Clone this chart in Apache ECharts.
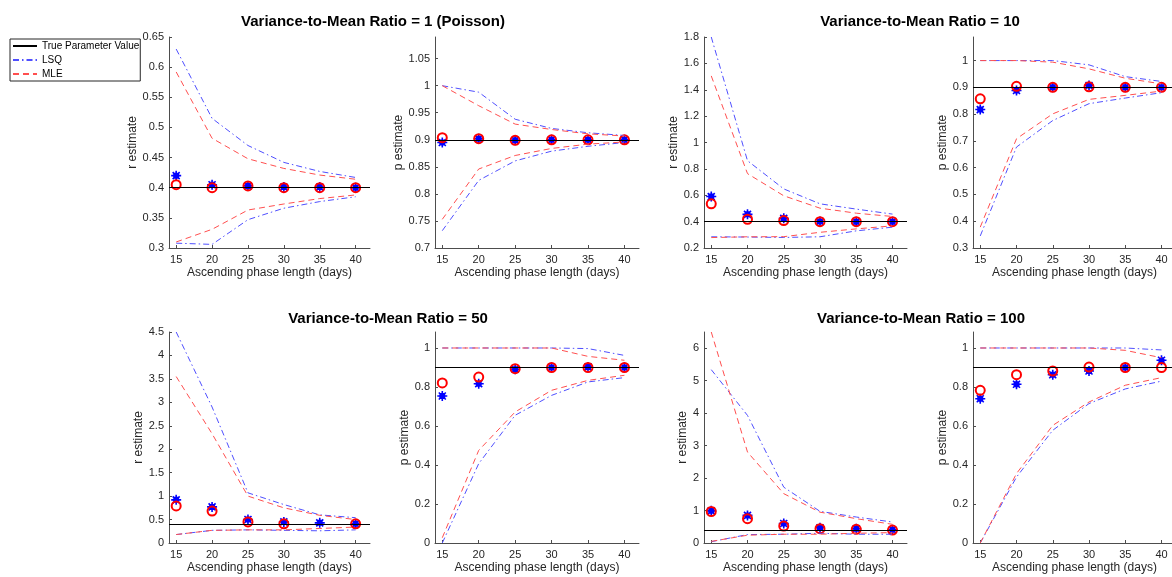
<!DOCTYPE html>
<html>
<head>
<meta charset="utf-8">
<title>Variance-to-mean ratio estimates</title>
<script src="https://cdn.jsdelivr.net/npm/echarts@6/dist/echarts.min.js"></script>
<style>
  html, body { margin: 0; padding: 0; background: #fff; }
  #main { width: 1172px; height: 577px; }
</style>
</head>
<body>
<div id="main"></div>
<script>
// x positions (ascending phase length, days)
var phaseLen = [15, 20, 25, 30, 35, 40];
var xTicks = [15, 20, 25, 30, 35, 40];

// true parameter values
var trueR = 0.4;
var trueP = 0.9;

// y tick labels per panel
var rTicksV1 = [0.3, 0.35, 0.4, 0.45, 0.5, 0.55, 0.6, 0.65];
var pTicksV1 = [0.7, 0.75, 0.8, 0.85, 0.9, 0.95, 1, 1.05];
var rTicksV10 = [0.2, 0.4, 0.6, 0.8, 1, 1.2, 1.4, 1.6, 1.8];
var pTicksV10 = [0.3, 0.4, 0.5, 0.6, 0.7, 0.8, 0.9, 1];
var rTicksV50 = [0, 0.5, 1, 1.5, 2, 2.5, 3, 3.5, 4, 4.5];
var pTicksV50 = [0, 0.2, 0.4, 0.6, 0.8, 1];
var rTicksV100 = [0, 1, 2, 3, 4, 5, 6];
var pTicksV100 = [0, 0.2, 0.4, 0.6, 0.8, 1];

// VMR = 1 (Poisson), r
var v1rLsq   = [0.420, 0.405, 0.403, 0.401, 0.401, 0.400];
var v1rMle   = [0.405, 0.400, 0.403, 0.400, 0.400, 0.400];
var v1rLsqHi = [0.630, 0.515, 0.470, 0.442, 0.427, 0.417];
var v1rLsqLo = [0.308, 0.306, 0.347, 0.366, 0.377, 0.385];
var v1rMleHi = [0.592, 0.482, 0.448, 0.432, 0.421, 0.414];
var v1rMleLo = [0.310, 0.331, 0.363, 0.373, 0.382, 0.388];

// VMR = 1 (Poisson), p
var v1pLsq   = [0.895, 0.902, 0.899, 0.900, 0.900, 0.900];
var v1pMle   = [0.904, 0.902, 0.899, 0.900, 0.900, 0.900];
var v1pLsqHi = [1.000, 0.988, 0.938, 0.921, 0.913, 0.908];
var v1pLsqLo = [0.732, 0.825, 0.861, 0.879, 0.888, 0.895];
var v1pMleHi = [1.000, 0.963, 0.929, 0.919, 0.911, 0.907];
var v1pMleLo = [0.753, 0.846, 0.871, 0.884, 0.892, 0.896];

// VMR = 10, r
var v10rLsq   = [0.590, 0.455, 0.425, 0.401, 0.400, 0.400];
var v10rMle   = [0.535, 0.418, 0.408, 0.400, 0.400, 0.400];
var v10rLsqHi = [1.800, 0.862, 0.648, 0.535, 0.495, 0.457];
var v10rLsqLo = [0.285, 0.283, 0.280, 0.285, 0.330, 0.358];
var v10rMleHi = [1.505, 0.764, 0.596, 0.502, 0.464, 0.439];
var v10rMleLo = [0.279, 0.285, 0.286, 0.319, 0.345, 0.368];

// VMR = 10, p
var v10pLsq   = [0.817, 0.888, 0.900, 0.907, 0.900, 0.900];
var v10pMle   = [0.857, 0.904, 0.900, 0.902, 0.900, 0.900];
var v10pLsqHi = [1.000, 1.000, 1.000, 0.984, 0.940, 0.922];
var v10pLsqLo = [0.345, 0.677, 0.776, 0.839, 0.860, 0.880];
var v10pMleHi = [1.000, 1.000, 0.994, 0.969, 0.934, 0.913];
var v10pMleLo = [0.378, 0.708, 0.801, 0.855, 0.870, 0.886];

// VMR = 50, r  (no MLE point at 35)
var v50rLsq   = [0.92, 0.77, 0.50, 0.45, 0.43, 0.41];
var v50rMle   = [0.79, 0.68, 0.45, 0.41, null, 0.41];
var v50rLsqHi = [4.50, 2.90, 1.07, 0.82, 0.60, 0.54];
var v50rLsqLo = [0.18, 0.27, 0.28, 0.27, 0.26, 0.28];
var v50rMleHi = [3.55, 2.33, 1.00, 0.75, 0.59, 0.50];
var v50rMleLo = [0.18, 0.27, 0.28, 0.28, 0.31, 0.34];

// VMR = 50, p
var v50pLsq   = [0.754, 0.817, 0.891, 0.900, 0.903, 0.900];
var v50pMle   = [0.821, 0.851, 0.894, 0.900, 0.900, 0.900];
var v50pLsqHi = [1.000, 1.000, 1.000, 1.000, 0.997, 0.962];
var v50pLsqLo = [0.000, 0.407, 0.655, 0.757, 0.826, 0.848];
var v50pMleHi = [1.000, 1.000, 1.000, 1.000, 0.957, 0.937];
var v50pMleLo = [0.027, 0.475, 0.672, 0.783, 0.834, 0.860];

// VMR = 100, r
var v100rLsq   = [0.99, 0.85, 0.60, 0.47, 0.44, 0.41];
var v100rMle   = [0.97, 0.75, 0.52, 0.44, 0.42, 0.40];
var v100rLsqHi = [5.34, 3.93, 1.72, 0.975, 0.80, 0.646];
var v100rLsqLo = [0.04, 0.26, 0.27, 0.30, 0.27, 0.27];
var v100rMleHi = [6.50, 2.80, 1.52, 0.95, 0.75, 0.575];
var v100rMleLo = [0.05, 0.24, 0.27, 0.27, 0.30, 0.32];

// VMR = 100, p
var v100pLsq   = [0.740, 0.814, 0.863, 0.882, 0.900, 0.937];
var v100pMle   = [0.783, 0.863, 0.882, 0.902, 0.900, 0.900];
var v100pLsqHi = [1.000, 1.000, 1.000, 1.000, 1.000, 0.990];
var v100pLsqLo = [0.000, 0.338, 0.578, 0.715, 0.790, 0.830];
var v100pMleHi = [1.000, 1.000, 1.000, 1.000, 0.988, 0.950];
var v100pMleLo = [0.000, 0.356, 0.603, 0.723, 0.809, 0.848];

var FONT = 'Liberation Sans, Arial, Helvetica, sans-serif';
var AXIS_COLOR = '#4d4d4d';
var TEXT_COLOR = '#262626';
var LSQ_COLOR = '#4f4fff';
var MLE_COLOR = '#ff4f4f';
// MATLAB-like '*' marker: 8 arms and a small solid core
var ASTERISK = 'path://M0,-5L0,5M-5,0L5,0M-3.5,-3.5L3.5,3.5M-3.5,3.5L3.5,-3.5M-2.2,-2.2L2.2,-2.2L2.2,2.2L-2.2,2.2Z';

var panels = [
  { left: 169, top: 37, width: 201, yMin: 0.3, yMax: 0.65, ticks: rTicksV1, yName: 'r estimate', nameGap: 28, truth: trueR,
    lsq: v1rLsq, mle: v1rMle, lsqHi: v1rLsqHi, lsqLo: v1rLsqLo, mleHi: v1rMleHi, mleLo: v1rMleLo },
  { left: 435, top: 37, width: 204, yMin: 0.7, yMax: 1.09, ticks: pTicksV1, yName: 'p estimate', nameGap: 24, truth: trueP,
    lsq: v1pLsq, mle: v1pMle, lsqHi: v1pLsqHi, lsqLo: v1pLsqLo, mleHi: v1pMleHi, mleLo: v1pMleLo },
  { left: 704, top: 37, width: 203, yMin: 0.2, yMax: 1.8, ticks: rTicksV10, yName: 'r estimate', nameGap: 20, truth: trueR,
    lsq: v10rLsq, mle: v10rMle, lsqHi: v10rLsqHi, lsqLo: v10rLsqLo, mleHi: v10rMleHi, mleLo: v10rMleLo },
  { left: 973, top: 37, width: 203, yMin: 0.3, yMax: 1.088, ticks: pTicksV10, yName: 'p estimate', nameGap: 19, truth: trueP,
    lsq: v10pLsq, mle: v10pMle, lsqHi: v10pLsqHi, lsqLo: v10pLsqLo, mleHi: v10pMleHi, mleLo: v10pMleLo },
  { left: 169, top: 332, width: 201, yMin: 0, yMax: 4.5, ticks: rTicksV50, yName: 'r estimate', nameGap: 20, truth: trueR,
    lsq: v50rLsq, mle: v50rMle, lsqHi: v50rLsqHi, lsqLo: v50rLsqLo, mleHi: v50rMleHi, mleLo: v50rMleLo },
  { left: 435, top: 332, width: 204, yMin: 0, yMax: 1.082, ticks: pTicksV50, yName: 'p estimate', nameGap: 19, truth: trueP,
    lsq: v50pLsq, mle: v50pMle, lsqHi: v50pLsqHi, lsqLo: v50pLsqLo, mleHi: v50pMleHi, mleLo: v50pMleLo },
  { left: 704, top: 332, width: 203, yMin: 0, yMax: 6.5, ticks: rTicksV100, yName: 'r estimate', nameGap: 10, truth: trueR,
    lsq: v100rLsq, mle: v100rMle, lsqHi: v100rLsqHi, lsqLo: v100rLsqLo, mleHi: v100rMleHi, mleLo: v100rMleLo },
  { left: 973, top: 332, width: 203, yMin: 0, yMax: 1.082, ticks: pTicksV100, yName: 'p estimate', nameGap: 19, truth: trueP,
    lsq: v100pLsq, mle: v100pMle, lsqHi: v100pLsqHi, lsqLo: v100pLsqLo, mleHi: v100pMleHi, mleLo: v100pMleLo }
];

function pairs(ys) {
  return phaseLen.map(function (x, k) { return [x, ys[k]]; });
}

var grids = [], xAxes = [], yAxes = [], series = [];

panels.forEach(function (p, i) {
  grids.push({ left: p.left, top: p.top, width: p.width, height: 211, outerBoundsMode: 'none' });

  xAxes.push({
    type: 'value', gridIndex: i, min: 14, max: 42,
    name: 'Ascending phase length (days)', nameLocation: 'middle', nameGap: 19,
    nameTextStyle: { fontSize: 12, color: TEXT_COLOR, fontFamily: FONT },
    axisLine: { show: true, onZero: false, lineStyle: { color: AXIS_COLOR, width: 1 } },
    axisTick: { show: true, inside: true, length: 3, customValues: xTicks, lineStyle: { color: AXIS_COLOR } },
    axisLabel: { customValues: xTicks, fontSize: 11, color: TEXT_COLOR, margin: 6, fontFamily: FONT },
    splitLine: { show: false }
  });

  yAxes.push({
    type: 'value', gridIndex: i, min: p.yMin, max: p.yMax,
    name: p.yName, nameLocation: 'middle', nameRotate: 90, nameGap: p.nameGap,
    nameTextStyle: { fontSize: 12, color: TEXT_COLOR, fontFamily: FONT },
    axisLine: { show: true, onZero: false, lineStyle: { color: AXIS_COLOR, width: 1 } },
    axisTick: { show: true, inside: true, length: 3, customValues: p.ticks, lineStyle: { color: AXIS_COLOR } },
    axisLabel: { customValues: p.ticks, fontSize: 11, color: TEXT_COLOR, margin: 5, fontFamily: FONT },
    splitLine: { show: false }
  });

  // true parameter value
  series.push({
    name: 'True Parameter Value', type: 'line', xAxisIndex: i, yAxisIndex: i,
    data: [], symbol: 'none',
    itemStyle: { color: '#000' }, lineStyle: { color: '#000', width: 1 },
    markLine: {
      silent: true, symbol: ['none', 'none'], label: { show: false },
      lineStyle: { color: '#000', width: 1, type: 'solid' },
      data: [{ yAxis: p.truth }]
    }
  });

  // LSQ bounds (dash-dot)
  [p.lsqHi, p.lsqLo].forEach(function (b) {
    series.push({
      name: 'LSQ', type: 'line', xAxisIndex: i, yAxisIndex: i, data: pairs(b),
      symbol: 'none', itemStyle: { color: LSQ_COLOR },
      lineStyle: { color: LSQ_COLOR, width: 1, type: [6, 3, 1.5, 3] }
    });
  });

  // MLE bounds (dashed)
  [p.mleHi, p.mleLo].forEach(function (b) {
    series.push({
      name: 'MLE', type: 'line', xAxisIndex: i, yAxisIndex: i, data: pairs(b),
      symbol: 'none', itemStyle: { color: MLE_COLOR },
      lineStyle: { color: MLE_COLOR, width: 1, type: [6, 4] }
    });
  });

  // point estimates
  series.push({
    name: 'LSQ estimate', type: 'scatter', xAxisIndex: i, yAxisIndex: i, data: pairs(p.lsq),
    symbol: ASTERISK, symbolSize: 10,
    itemStyle: { color: '#0000ff', borderColor: '#0000ff', borderWidth: 1.6, opacity: 1 }
  });
  series.push({
    name: 'MLE estimate', type: 'scatter', xAxisIndex: i, yAxisIndex: i,
    data: pairs(p.mle).filter(function (d) { return d[1] !== null; }),
    symbol: 'circle', symbolSize: 9,
    itemStyle: { color: 'rgba(0,0,0,0)', borderColor: '#ff0000', borderWidth: 2, opacity: 1 }
  });
});

var option = {
  animation: false,
  textStyle: { fontFamily: FONT },
  title: [
    { text: 'Variance-to-Mean Ratio = 1 (Poisson)', left: 373, top: 14, textAlign: 'center', padding: 0,
      textStyle: { fontSize: 15, fontWeight: 'bold', color: '#000', fontFamily: FONT } },
    { text: 'Variance-to-Mean Ratio = 10', left: 920, top: 14, textAlign: 'center', padding: 0,
      textStyle: { fontSize: 15, fontWeight: 'bold', color: '#000', fontFamily: FONT } },
    { text: 'Variance-to-Mean Ratio = 50', left: 388, top: 311, textAlign: 'center', padding: 0,
      textStyle: { fontSize: 15, fontWeight: 'bold', color: '#000', fontFamily: FONT } },
    { text: 'Variance-to-Mean Ratio = 100', left: 921, top: 311, textAlign: 'center', padding: 0,
      textStyle: { fontSize: 15, fontWeight: 'bold', color: '#000', fontFamily: FONT } }
  ],
  legend: {
    data: ['True Parameter Value', 'LSQ', 'MLE'],
    orient: 'vertical', left: 10, top: 39,
    padding: [2, 1, 2, 2], itemGap: 4, itemWidth: 24, itemHeight: 12,
    borderColor: '#262626', borderWidth: 1, backgroundColor: '#fff',
    selectedMode: false,
    itemStyle: { color: 'rgba(0,0,0,0)', borderColor: 'rgba(0,0,0,0)', borderWidth: 0, opacity: 0 },
    textStyle: { fontSize: 10, color: '#000', fontFamily: FONT }
  },
  grid: grids,
  xAxis: xAxes,
  yAxis: yAxes,
  series: series
};

var myChart = echarts.init(document.getElementById('main'), null, { renderer: 'canvas' });
myChart.setOption(option);
</script>
</body>
</html>
